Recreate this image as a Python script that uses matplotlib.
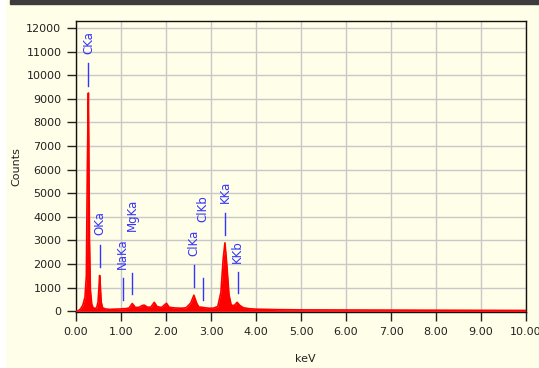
import matplotlib
matplotlib.use("Agg")
import matplotlib.pyplot as plt
from matplotlib.patches import Rectangle

# Spectrum (energy keV, counts)
energy = [0.00, 0.05, 0.10, 0.15, 0.20, 0.23, 0.25, 0.265, 0.275, 0.285, 0.30, 0.32, 0.35,
          0.38, 0.42, 0.46, 0.49, 0.51, 0.525, 0.54, 0.56, 0.59, 0.65, 0.75, 0.85, 1.00,
          1.04, 1.10, 1.18, 1.25, 1.32, 1.40, 1.48, 1.52, 1.58, 1.66, 1.74, 1.80, 1.90,
          2.01, 2.07, 2.20, 2.35, 2.45, 2.55, 2.62, 2.68, 2.73, 2.80, 2.86, 2.95, 3.05,
          3.15, 3.22, 3.27, 3.31, 3.35, 3.40, 3.45, 3.52, 3.58, 3.64, 3.72, 3.85, 4.00,
          4.50, 5.00, 6.00, 7.00, 8.00, 9.00, 10.00]
counts = [0, 20, 100, 250, 600, 1500, 5700, 8000, 9250, 7000, 3000, 900, 300,
          150, 120, 150, 400, 1000, 1520, 1100, 400, 150, 100, 80, 90, 100,
          110, 110, 140, 330, 160, 170, 250, 260, 180, 170, 380, 200, 160,
          340, 170, 140, 130, 150, 350, 680, 350, 180, 170, 150, 130, 130,
          200, 800, 2200, 2900, 2000, 700, 250, 250, 380, 250, 150, 110, 90,
          70, 60, 55, 50, 45, 40, 35]

# Peak markers
marker_names = ["CKa", "OKa", "NaKa", "MgKa", "ClKa", "ClKb", "KKa", "KKb"]
marker_energy = [0.277, 0.525, 1.041, 1.254, 2.622, 2.815, 3.313, 3.590]
marker_bottom = [9560, 1890, 480, 720, 1010, 480, 3240, 760]
marker_top = [10530, 2820, 1390, 1640, 1980, 1430, 4180, 1680]
label_base = [10900, 3240, 1810, 3410, 2360, 3790, 4590, 2060]

x_ticks = [0, 1, 2, 3, 4, 5, 6, 7, 8, 9, 10]
y_ticks = list(range(0, 12001, 1000))

bg = "#FFFEE8"
blue = "#3535FF"

plt.rcParams["font.family"] = ["DejaVu Sans"]
fig = plt.figure(figsize=(5.39, 3.68), dpi=100, facecolor=bg)
ax = fig.add_axes([76 / 539, 1 - 312 / 368, 450 / 539, 291 / 368])
ax.set_facecolor(bg)

# top dark strip and left white strip (screenshot remnants)
fig.patches.append(Rectangle((10 / 539, 1 - 4 / 368), 1, 4 / 368, transform=fig.transFigure,
                             color="#3c3c3c", zorder=0))
fig.patches.append(Rectangle((0, 0), 5 / 539, 1, transform=fig.transFigure,
                             color="white", zorder=0))

ax.fill_between(energy, counts, 0, color="red", linewidth=0, zorder=3)
ax.plot(energy, counts, color="red", linewidth=1.2, zorder=3)

for name, e, b, t, lb in zip(marker_names, marker_energy, marker_bottom, marker_top, label_base):
    ax.plot([e, e], [b, t], color=blue, linewidth=1.0, zorder=4)
    ax.text(e, lb, name, rotation=90, ha="center", va="bottom",
            color=blue, fontsize=8.5, zorder=4)

ax.set_xlim(0, 10)
ax.set_ylim(-30, 12300)
ax.set_xticks(x_ticks)
ax.set_xticklabels([f"{v:.2f}" for v in x_ticks])
ax.set_yticks(y_ticks)
ax.set_yticklabels([str(v) for v in y_ticks])
ax.tick_params(direction="out", length=6.5, width=1, labelsize=8, color="#222222",
               labelcolor="#222222", pad=4)
ax.grid(True, color="#c8c8c8", linewidth=1.0, zorder=0)
ax.set_axisbelow(True)
for s in ax.spines.values():
    s.set_color("#111111")
    s.set_linewidth(1.0)

ax.set_xlabel("keV", fontsize=8, color="#222222")
ax.xaxis.set_label_coords(0.509, -0.145)
ax.set_ylabel("Counts", fontsize=8, color="#222222")
ax.yaxis.set_label_coords(-0.122, 0.5)

fig.savefig("out.png", dpi=100, facecolor=bg)
